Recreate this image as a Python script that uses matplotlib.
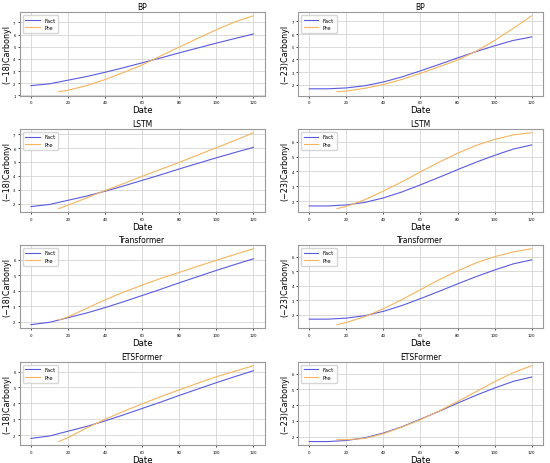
import matplotlib
matplotlib.use("Agg")
import matplotlib.pyplot as plt

MODELS = ["BP", "LSTM", "Transformer", "ETSFormer"]
SITES = ["(−18)Carbonyl", "(−23)Carbonyl"]

FACT_X = [0, 10, 20, 30, 40, 50, 60, 70, 80, 90, 100, 110, 120]
FACT_18 = [1.8, 1.95, 2.25, 2.55, 2.9, 3.28, 3.68, 4.08, 4.5, 4.9, 5.3, 5.68, 6.05]
FACT_23 = [1.68, 1.68, 1.75, 1.92, 2.22, 2.62, 3.1, 3.6, 4.12, 4.62, 5.08, 5.5, 5.78]

PRE_X = [15, 20, 30, 40, 50, 60, 70, 80, 90, 100, 110, 120]
PRE_18 = {
    "BP": [1.3, 1.42, 1.8, 2.3, 2.88, 3.5, 4.25, 4.98, 5.7, 6.4, 7.05, 7.55],
    "LSTM": [1.65, 1.9, 2.42, 2.95, 3.45, 3.97, 4.47, 4.97, 5.5, 6.02, 6.55, 7.1],
    "Transformer": [2.1, 2.3, 2.85, 3.4, 3.9, 4.35, 4.78, 5.17, 5.57, 5.95, 6.33, 6.7],
    "ETSFormer": [1.6, 1.85, 2.45, 3.0, 3.5, 3.97, 4.42, 4.85, 5.27, 5.67, 6.02, 6.37],
}
PRE_23 = {
    "BP": [1.45, 1.5, 1.72, 2.02, 2.42, 2.9, 3.42, 3.95, 4.65, 5.5, 6.45, 7.45],
    "LSTM": [1.5, 1.65, 2.1, 2.68, 3.3, 3.97, 4.62, 5.22, 5.75, 6.15, 6.45, 6.6],
    "Transformer": [1.3, 1.45, 1.85, 2.4, 3.03, 3.72, 4.4, 5.02, 5.57, 6.0, 6.33, 6.55],
    "ETSFormer": [1.8, 1.8, 1.88, 2.18, 2.6, 3.07, 3.62, 4.22, 4.85, 5.48, 6.05, 6.5],
}

FACT_COLOR = "#5a5ae0"
PRE_COLOR = "#f7b45c"

fig = plt.figure(figsize=(5.5, 4.64), dpi=100)

row_tops = [0.972, 0.720, 0.470, 0.218]
ax_h = 0.180
col_lefts = [0.036, 0.542]
ax_w = 0.445

for r, model in enumerate(MODELS):
    for c in range(2):
        ax = fig.add_axes([col_lefts[c], row_tops[r] - ax_h, ax_w, ax_h])
        fact = FACT_18 if c == 0 else FACT_23
        pre = PRE_18[model] if c == 0 else PRE_23[model]
        ax.plot(FACT_X, fact, color=FACT_COLOR, linewidth=0.8, label="Fact")
        ax.plot(PRE_X, pre, color=PRE_COLOR, linewidth=0.8, label="Pre")
        ax.set_title(model, fontsize=5.5, pad=2)
        ax.set_xlabel("Date", fontsize=6.2, labelpad=1)
        ax.set_ylabel(SITES[c], fontsize=5.8, labelpad=1.5)
        ax.set_xticks([0, 20, 40, 60, 80, 100, 120])
        ax.tick_params(labelsize=2.8, length=1.5, width=0.5, pad=1.5)
        ax.grid(True, color="#d4d4d4", linewidth=0.6)
        for sp in ax.spines.values():
            sp.set_color("#999999")
            sp.set_linewidth(0.8)
        ax.legend(loc="upper left", fontsize=4, frameon=True,
                  handlelength=2.6, borderpad=0.5, labelspacing=0.5,
                  edgecolor="#cccccc")

fig.savefig("out.png", dpi=100)
